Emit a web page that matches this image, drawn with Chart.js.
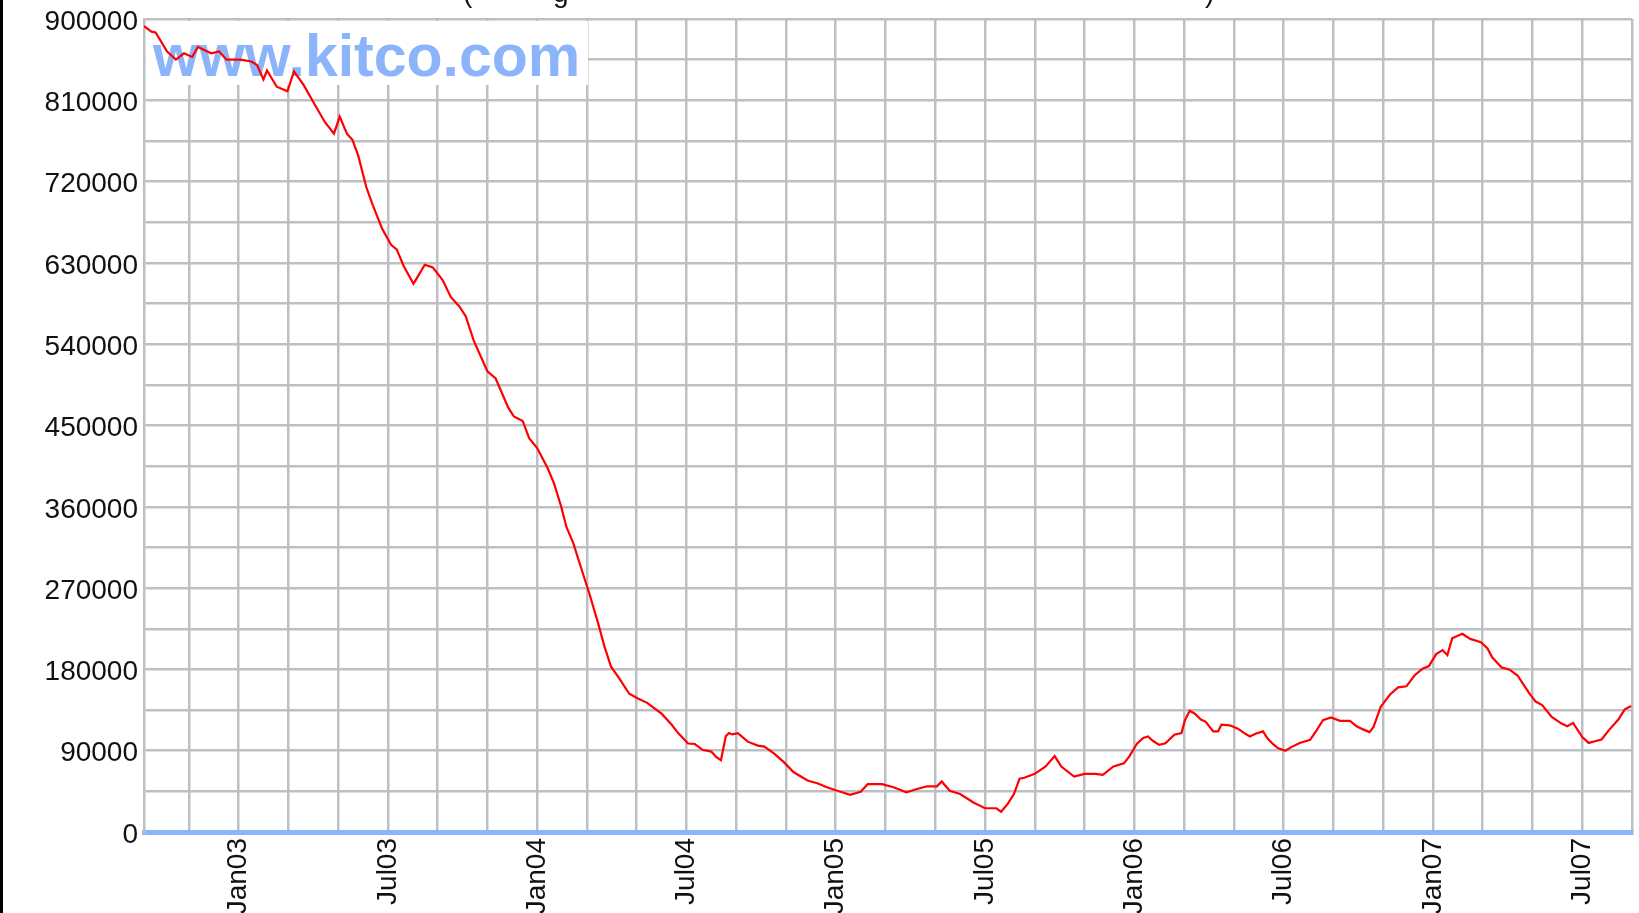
<!DOCTYPE html>
<html>
<head>
<meta charset="utf-8">
<style>
html,body{margin:0;padding:0;width:1639px;height:913px;overflow:hidden;background:#fff}
canvas{display:block}
</style>
<script src="https://cdn.jsdelivr.net/npm/chart.js@4.4.0/dist/chart.umd.min.js"></script>
</head>
<body>
<canvas id="c" width="1639" height="960"></canvas>
<script>
// ---- data ----
const dates = [
'2002-09-07','2002-09-16','2002-09-21','2002-10-05','2002-10-16','2002-10-26','2002-11-05','2002-11-12','2002-11-19','2002-11-28',
'2002-12-08','2002-12-17','2003-01-03','2003-01-17','2003-01-24','2003-02-01','2003-02-05','2003-02-16','2003-02-28','2003-03-08',
'2003-03-20','2003-04-03','2003-04-15','2003-04-26','2003-05-03','2003-05-12','2003-05-19','2003-05-26','2003-06-05','2003-06-12',
'2003-06-24','2003-07-05','2003-07-12','2003-07-21','2003-08-02','2003-08-16','2003-08-26','2003-09-07','2003-09-17','2003-09-27',
'2003-10-05','2003-10-15','2003-11-01','2003-11-11','2003-11-26','2003-12-03','2003-12-14','2003-12-22','2004-01-01','2004-01-14',
'2004-01-22','2004-01-31','2004-02-06','2004-02-14','2004-02-24','2004-03-04','2004-03-15','2004-03-23','2004-03-31','2004-04-10',
'2004-04-22','2004-05-02','2004-05-14','2004-06-01','2004-06-13','2004-06-21','2004-07-03','2004-07-11','2004-07-21','2004-08-01',
'2004-08-07','2004-08-13','2004-08-19','2004-08-23','2004-08-27','2004-09-03','2004-09-15','2004-09-27','2004-10-05','2004-10-17',
'2004-10-29','2004-11-10','2004-11-27','2004-12-09','2004-12-21','2005-01-03','2005-01-19','2005-02-01','2005-02-09','2005-02-25',
'2005-03-11','2005-03-27','2005-04-09','2005-04-21','2005-05-03','2005-05-09','2005-05-19','2005-06-01','2005-06-17','2005-07-01',
'2005-07-15','2005-07-21','2005-07-29','2005-08-06','2005-08-13','2005-08-19','2005-09-01','2005-09-14','2005-09-25','2005-10-03',
'2005-10-19','2005-11-01','2005-11-14','2005-11-23','2005-12-06','2005-12-19','2005-12-26','2006-01-04','2006-01-12','2006-01-18',
'2006-01-24','2006-02-01','2006-02-08','2006-02-18','2006-02-26','2006-03-02','2006-03-08','2006-03-14','2006-03-22','2006-03-28',
'2006-04-06','2006-04-12','2006-04-16','2006-04-26','2006-05-06','2006-05-14','2006-05-21','2006-05-28','2006-06-06','2006-06-12',
'2006-06-18','2006-06-24','2006-07-03','2006-07-10','2006-07-21','2006-08-03','2006-08-11','2006-08-19','2006-08-29','2006-09-09',
'2006-09-21','2006-09-29','2006-10-07','2006-10-15','2006-10-20','2006-10-29','2006-11-09','2006-11-19','2006-11-29','2006-12-09',
'2006-12-19','2006-12-27','2007-01-05','2007-01-13','2007-01-19','2007-01-25','2007-02-06','2007-02-15','2007-02-27','2007-03-07',
'2007-03-13','2007-03-25','2007-04-03','2007-04-13','2007-04-27','2007-05-05','2007-05-13','2007-05-25','2007-06-06','2007-06-13',
'2007-06-20','2007-07-01','2007-07-09','2007-07-17','2007-07-25','2007-08-03','2007-08-15','2007-08-23','2007-08-31'
];
const values = [
892000,886000,885000,864000,855000,862000,858000,869000,866000,862000,
864000,855000,855000,853000,849000,833000,843000,825000,820000,842000,
827000,805000,786000,773000,792000,773000,766000,749000,714000,696000,
668000,650000,645000,626000,607000,628000,625000,611000,592000,582000,
571000,544000,510000,502000,470000,460000,455000,436000,425000,403000,
386000,360000,338000,320000,290000,264000,231000,205000,183000,170000,
153000,148000,143000,131000,119000,109500,98000,97500,91000,89000,
83000,79500,106000,109500,108000,109500,100000,95600,94500,87000,
77600,66400,57000,54000,49500,45700,41200,44600,53000,53000,
49500,44000,47600,50600,50600,56000,45700,42000,32600,26300,
26300,22500,30800,42000,59000,60000,64400,72500,84000,72500,
61400,64400,64400,63200,72500,76000,84000,97500,104000,105700,
101000,96400,98200,107600,109500,123700,134200,131200,124500,121900,
111400,111400,118900,118100,114400,109500,105700,108800,111400,103100,
97500,93000,90000,93700,98600,102000,112500,123750,126750,123000,
123000,117000,113600,110600,116250,138750,151900,160100,161250,173250,
180750,183750,196900,201400,195750,214500,219400,213750,210000,203250,
193100,181900,180000,173250,153750,144400,140600,127500,120000,117000,
120750,105000,98600,100500,102400,112500,124500,135750,139500
];
const axisEndDate = '2007-09-01';
const xTickLabels = ['Jan03','Jul03','Jan04','Jul04','Jan05','Jul05','Jan06','Jul06','Jan07','Jul07'];
const yTickLabels = ['0','90000','180000','270000','360000','450000','540000','630000','720000','810000','900000'];
const yMax = 900000;
const yGridStep = 45000;
const watermark = 'www.kitco.com';
const titleBits = ['(', 'g', ')'];

// months since Jan 2003
function toMonths(s){
  const [Y,M,D] = s.split('-').map(Number);
  const dim = new Date(Y, M, 0).getDate();
  return (Y-2003)*12 + (M-1) + (D-1)/dim;
}
const points = dates.map((d,i)=>({x: toMonths(d), y: values[i]}));
const xMin = toMonths(dates[0]);
const xMax = toMonths(axisEndDate);

const GRID = '#bcc0c4';
const BLUE = '#8cb4fa';
const FONT = '"Liberation Sans", Arial, Helvetica, sans-serif';

const decor = {
  id: 'decor',
  beforeDraw(chart){
    const ctx = chart.ctx;
    ctx.save();
    ctx.fillStyle = '#fff';
    ctx.fillRect(0,0,chart.width,chart.height);
    ctx.restore();
  },
  beforeDatasetsDraw(chart){
    const ctx = chart.ctx, a = chart.chartArea;
    ctx.save();
    ctx.fillStyle = '#fff';
    ctx.fillRect(a.left + 2, 21, 442, 64);
    ctx.fillStyle = BLUE;
    ctx.font = 'bold 59px ' + FONT;
    ctx.textBaseline = 'alphabetic';
    ctx.textAlign = 'left';
    ctx.fillText(watermark, a.left + 9, 76);
    ctx.restore();
  },
  afterDraw(chart){
    const ctx = chart.ctx;
    ctx.save();
    ctx.fillStyle = '#000';
    ctx.fillRect(0, 0, 3, chart.height);
    ctx.font = '28px ' + FONT;
    ctx.fillStyle = '#111';
    ctx.textBaseline = 'alphabetic';
    ctx.textAlign = 'left';
    const xs = [463, 553, 1205];
    titleBits.forEach((t,i)=>ctx.fillText(t, xs[i], 2));
    ctx.restore();
  }
};

new Chart(document.getElementById('c'), {
  type: 'line',
  data: {
    datasets: [{
      data: points,
      borderColor: '#ff0000',
      borderWidth: 2.2,
      pointRadius: 0,
      tension: 0,
      fill: false
    }]
  },
  options: {
    responsive: false,
    animation: false,
    devicePixelRatio: 1,
    layout: { padding: { top: 19, right: 7, left: 0, bottom: 0 } },
    plugins: { legend: { display: false }, tooltip: { enabled: false }, title: { display: false } },
    scales: {
      x: {
        type: 'linear',
        min: xMin,
        max: xMax,
        afterBuildTicks(scale){
          const t = [];
          for (let v = Math.ceil(xMin/2)*2; v <= xMax + 1e-6; v += 2) t.push({value: v});
          scale.ticks = t;
        },
        afterFit(scale){ scale.height = 128; scale.paddingLeft = 0; scale.paddingRight = 0; },
        grid: { color: GRID, lineWidth: 2.5, drawTicks: false },
        border: { color: BLUE, width: 5 },
        ticks: {
          autoSkip: false,
          maxRotation: 90,
          minRotation: 90,
          padding: 6,
          color: '#111',
          font: { family: FONT, size: 28 },
          callback(v){
            const r = Math.round(v);
            if (r >= 0 && r % 6 === 0) return xTickLabels[r/6] || '';
            return '';
          }
        }
      },
      y: {
        type: 'linear',
        min: 0,
        max: yMax,
        afterBuildTicks(scale){
          const t = [];
          for (let v = 0; v <= yMax; v += yGridStep) t.push({value: v});
          scale.ticks = t;
        },
        afterFit(scale){ scale.width = 144; scale.paddingTop = 0; scale.paddingBottom = 0; },
        grid: { color: GRID, lineWidth: 2.5, drawTicks: false },
        border: { color: GRID, width: 2.5 },
        ticks: {
          autoSkip: false,
          padding: 6,
          labelOffset: 3,
          color: '#111',
          font: { family: FONT, size: 28 },
          callback(v){
            return (v % 90000 === 0) ? yTickLabels[v/90000] : '';
          }
        }
      }
    }
  },
  plugins: [decor]
});
</script>
</body>
</html>
